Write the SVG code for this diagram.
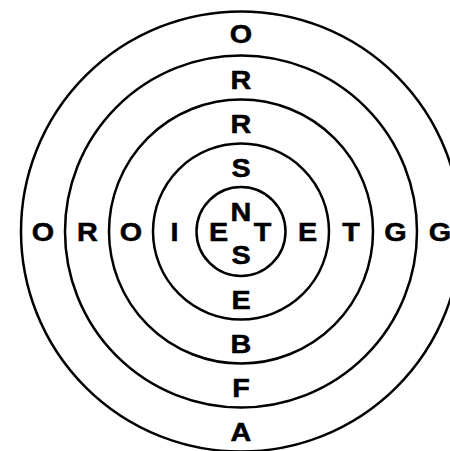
<svg xmlns="http://www.w3.org/2000/svg" width="450" height="451" viewBox="0 0 450 451">
<style>
.ring{fill:none;stroke:#000;stroke-width:2.5}
</style>
<rect width="450" height="451" fill="#fff"/>
<g id="rings">
<circle class="ring" cx="241" cy="231.5" r="220"/>
<circle class="ring" cx="241" cy="231.5" r="176"/>
<circle class="ring" cx="241" cy="231.5" r="132"/>
<circle class="ring" cx="241" cy="231.5" r="88"/>
<circle class="ring" cx="241" cy="231.5" r="44.5"/>
</g>
<g id="letters" font-family="Liberation Sans, Arial, sans-serif" font-weight="700" font-size="25" text-anchor="middle" fill="#000" stroke="#000" stroke-width="0.5">
<g id="vertical">
<text transform="translate(241,43) scale(1.15,1)">O</text>
<text transform="translate(241,88.5) scale(1.15,1)">R</text>
<text transform="translate(241,132.5) scale(1.15,1)">R</text>
<text transform="translate(241,176.5) scale(1.15,1)">S</text>
<text transform="translate(241,220.5) scale(1.15,1)">N</text>
<text transform="translate(241,264) scale(1.15,1)">S</text>
<text transform="translate(241,308.5) scale(1.15,1)">E</text>
<text transform="translate(241,352.5) scale(1.15,1)">B</text>
<text transform="translate(241,397) scale(1.15,1)">F</text>
<text transform="translate(241,440.5) scale(1.15,1)">A</text>
</g>
<g id="horizontal">
<text transform="translate(43,241) scale(1.15,1)">O</text>
<text transform="translate(87.5,241) scale(1.15,1)">R</text>
<text transform="translate(131,241) scale(1.15,1)">O</text>
<text transform="translate(174.5,241) scale(1.15,1)">I</text>
<text transform="translate(218.5,241) scale(1.15,1)">E</text>
<text transform="translate(262.5,241) scale(1.15,1)">T</text>
<text transform="translate(307.5,241) scale(1.15,1)">E</text>
<text transform="translate(351,241) scale(1.15,1)">T</text>
<text transform="translate(395.5,241) scale(1.15,1)">G</text>
<text transform="translate(440,241) scale(1.15,1)">G</text>
</g>
</g>
</svg>
